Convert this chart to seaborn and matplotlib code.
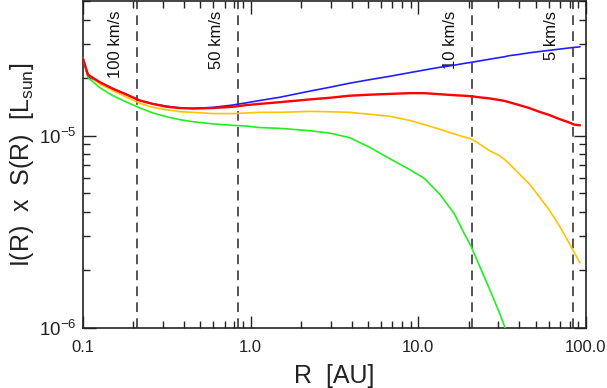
import numpy as np
import pandas as pd
import seaborn as sns
import matplotlib
matplotlib.use("Agg")
import matplotlib.pyplot as plt
from matplotlib.ticker import LogLocator, FixedLocator, FixedFormatter, NullFormatter

# ---------------- data ----------------
R_au = [0.100, 0.1071, 0.1263, 0.1509, 0.1827, 0.2184, 0.2610, 0.3162, 0.3778, 0.4516,
        0.5940, 0.7814, 0.9466, 1.131, 1.488, 2.245, 2.953, 3.884, 5.109, 6.721,
        8.842, 10.86, 13.34, 16.38, 18.78, 20.69, 23.08, 26.46, 30.35, 32.96,
        34.82, 39.93, 45.79, 52.51, 60.23, 69.07, 79.21, 84.85, 92.11]

blue = [2.51e-5, 2.02e-5, 1.89e-5, 1.75e-5, 1.63e-5, 1.52e-5, 1.46e-5, 1.42e-5, 1.39e-5, 1.385e-5,
        1.40e-5, 1.44e-5, 1.48e-5, 1.52e-5, 1.58e-5, 1.70e-5, 1.78e-5, 1.87e-5, 1.95e-5, 2.03e-5,
        2.12e-5, 2.19e-5, 2.26e-5, 2.32e-5, 2.37e-5, 2.40e-5, 2.44e-5, 2.49e-5, 2.54e-5, 2.57e-5,
        2.60e-5, 2.64e-5, 2.69e-5, 2.73e-5, 2.77e-5, 2.81e-5, 2.85e-5, 2.87e-5, 2.89e-5]

red = [2.51e-5, 2.07e-5, 1.89e-5, 1.75e-5, 1.63e-5, 1.52e-5, 1.46e-5, 1.41e-5, 1.39e-5, 1.38e-5,
       1.39e-5, 1.41e-5, 1.44e-5, 1.46e-5, 1.49e-5, 1.54e-5, 1.57e-5, 1.61e-5, 1.63e-5, 1.645e-5,
       1.66e-5, 1.66e-5, 1.64e-5, 1.62e-5, 1.61e-5, 1.60e-5, 1.58e-5, 1.56e-5, 1.53e-5, 1.51e-5,
       1.49e-5, 1.44e-5, 1.39e-5, 1.33e-5, 1.28e-5, 1.22e-5, 1.17e-5, 1.14e-5, 1.13e-5]

yellow = [2.51e-5, 2.07e-5, 1.85e-5, 1.71e-5, 1.58e-5, 1.47e-5, 1.40e-5, 1.36e-5, 1.33e-5, 1.32e-5,
          1.30e-5, 1.30e-5, 1.31e-5, 1.32e-5, 1.32e-5, 1.335e-5, 1.33e-5, 1.32e-5, 1.29e-5, 1.26e-5,
          1.20e-5, 1.14e-5, 1.08e-5, 1.02e-5, 9.82e-6, 9.61e-6, 9.06e-6, 8.36e-6, 7.88e-6, 7.47e-6,
          7.14e-6, 6.33e-6, 5.62e-6, 4.83e-6, 4.12e-6, 3.42e-6, 2.77e-6, 2.48e-6, 2.18e-6]

green = [2.54e-5, 2.00e-5, 1.77e-5, 1.61e-5, 1.49e-5, 1.39e-5, 1.31e-5, 1.25e-5, 1.21e-5, 1.18e-5,
         1.15e-5, 1.13e-5, 1.12e-5, 1.10e-5, 1.09e-5, 1.06e-5, 1.03e-5, 9.76e-6, 8.70e-6, 7.60e-6,
         6.67e-6, 5.99e-6, 4.99e-6, 3.93e-6, 3.10e-6, 2.64e-6, 2.12e-6, 1.61e-6, 1.21e-6, 1.00e-6,
         0.95e-6, np.nan, np.nan, np.nan, np.nan, np.nan, np.nan, np.nan, np.nan]

vel_labels = ["100 km/s", "50 km/s", "10 km/s", "5 km/s"]
vel_R = [0.21, 0.84, 21.0, 84.0]

x_ticks = [0.1, 1.0, 10.0, 100.0]
x_ticklabels = ["0.1", "1.0", "10.0", "100.0"]
y_ticks = [1e-6, 1e-5]
y_ticklabels = [r"10$^{-6}$", r"10$^{-5}$"]

series_colors = {"blue": "#2020ff", "red": "#ff0000", "yellow": "#ffc400", "green": "#22ee22"}
series_widths = {"blue": 1.2, "red": 1.7, "yellow": 1.2, "green": 1.2}

df = pd.DataFrame({"R": R_au, "blue": blue, "red": red, "yellow": yellow, "green": green})
long = df.melt(id_vars="R", var_name="model", value_name="I")

# ---------------- figure ----------------
sns.set_theme(style="ticks")
plt.rcParams["font.family"] = ["Liberation Sans", "DejaVu Sans"]
plt.rcParams["mathtext.fontset"] = "custom"
plt.rcParams["mathtext.rm"] = "Liberation Sans"
plt.rcParams["mathtext.it"] = "Liberation Sans"

fig = plt.figure(figsize=(6.07, 3.88), dpi=100)
ax = fig.add_axes([83 / 607, 1 - 328 / 388, (586 - 83) / 607, 327 / 388])

ax.set_xscale("log")
ax.set_yscale("log")

# vertical dashed velocity lines
for lab, rv in zip(vel_labels, vel_R):
    ax.axvline(rv, color="#555555", lw=1.4, ls=(0, (5.0, 3.2)), zorder=1)
    ax.annotate(lab, xy=(rv, 1.0), xycoords=("data", "axes fraction"),
                xytext=(-14, -10), textcoords="offset pixels",
                rotation=90, ha="right", va="top", fontsize=12, color="#111111")

for name in ["blue", "yellow", "green", "red"]:
    sub = long[long["model"] == name].dropna()
    sns.lineplot(data=sub, x="R", y="I", ax=ax, color=series_colors[name],
                 lw=series_widths[name], legend=False, zorder=3, sort=True)

ax.set_xlim(0.1, 100.0)
ax.set_ylim(1e-6, 5e-5)

ax.xaxis.set_major_locator(FixedLocator(x_ticks))
ax.xaxis.set_major_formatter(FixedFormatter(x_ticklabels))
ax.xaxis.set_minor_locator(LogLocator(base=10, subs=np.arange(2, 10)))
ax.xaxis.set_minor_formatter(NullFormatter())
ax.yaxis.set_major_locator(FixedLocator(y_ticks))
ax.yaxis.set_major_formatter(FixedFormatter(y_ticklabels))
ax.yaxis.set_minor_locator(LogLocator(base=10, subs=np.arange(2, 10), numticks=20))
ax.yaxis.set_minor_formatter(NullFormatter())

ax.tick_params(which="both", direction="in", top=True, right=True, colors="#222222",
               width=1.0)
ax.tick_params(axis="x", labelsize=12)
ax.tick_params(axis="y", labelsize=13.5)
ax.tick_params(which="major", length=9)
ax.tick_params(which="minor", length=5)
ax.tick_params(axis="x", pad=9)
ax.tick_params(axis="y", pad=5)
for sp in ax.spines.values():
    sp.set_linewidth(1.2)
    sp.set_color("#222222")

ax.set_xlabel("R  [AU]", fontsize=18, color="#222222", labelpad=6)
ax.set_ylabel(r"I(R)  x  S(R)  [L$_{\rm sun}$]", fontsize=18, color="#222222", labelpad=2)

fig.savefig("out.png", dpi=100)
